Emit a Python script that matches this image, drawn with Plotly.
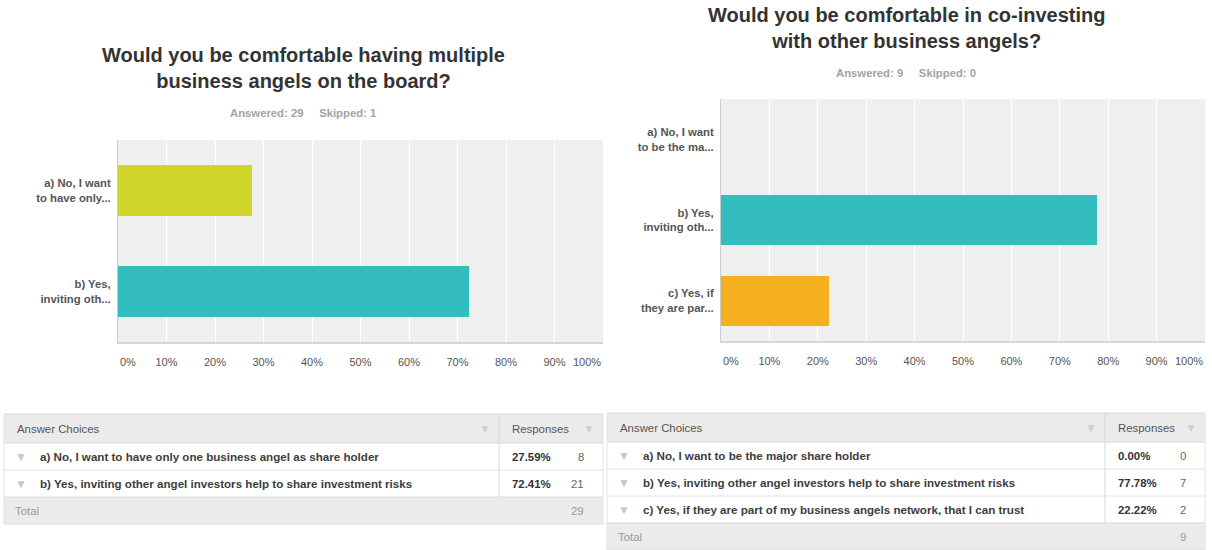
import plotly.graph_objects as go

W, H = 1212, 550

# ---- Question 1 -------------------------------------------------------------
q1_title = "Would you be comfortable having multiple<br>business angels on the board?"
q1_answered, q1_skipped = 29, 1
q1_labels = ["a) No, I want<br>to have only...", "b) Yes,<br>inviting oth..."]
q1_choices = [
    "a) No, I want to have only one business angel as share holder",
    "b) Yes, inviting other angel investors help to share investment risks",
]
q1_pct = [27.59, 72.41]
q1_counts = [8, 21]
q1_total = 29

# ---- Question 2 -------------------------------------------------------------
q2_title = "Would you be comfortable in co-investing<br>with other business angels?"
q2_answered, q2_skipped = 9, 0
q2_labels = ["a) No, I want<br>to be the ma...", "b) Yes,<br>inviting oth...", "c) Yes, if<br>they are par..."]
q2_choices = [
    "a) No, I want to be the major share holder",
    "b) Yes, inviting other angel investors help to share investment risks",
    "c) Yes, if they are part of my business angels network, that I can trust",
]
q2_pct = [0.00, 77.78, 22.22]
q2_counts = [0, 7, 2]
q2_total = 9

# ---- Axis ticks -------------------------------------------------------------
tick_vals = [0, 10, 20, 30, 40, 50, 60, 70, 80, 90, 100]
tick_text = ["0%", "10%", "20%", "30%", "40%", "50%", "60%", "70%", "80%", "90%", "100%"]

GREEN, TEAL, ORANGE = "#D0D62A", "#34BDBF", "#F6AF20"
q1_colors = [GREEN, TEAL]
q2_colors = [GREEN, TEAL, ORANGE]

FONT = "Liberation Sans, Arial, sans-serif"
TICK_COLOR = "#555555"


def fx(p):
    return p / W


def fy(p):
    return 1 - p / H


fig = go.Figure()

fig.add_trace(go.Bar(
    x=q1_pct, y=q1_labels, orientation="h", width=0.5,
    marker=dict(color=q1_colors, line=dict(width=0)),
    xaxis="x", yaxis="y", hoverinfo="skip", showlegend=False,
))
fig.add_trace(go.Bar(
    x=q2_pct, y=q2_labels, orientation="h", width=0.62,
    marker=dict(color=q2_colors, line=dict(width=0)),
    xaxis="x2", yaxis="y2", hoverinfo="skip", showlegend=False,
))

# plot panels: (left, right, top, bottom) in pixels
panels = [(118, 603, 140, 342), (721, 1205, 99, 341)]

xcommon = dict(
    range=[0, 100], tickvals=tick_vals,
    ticktext=[""] + tick_text[1:-1] + [""],
    showgrid=True, gridcolor="#ffffff", gridwidth=1, zeroline=False,
    showline=True, linecolor="#d6d6d6", linewidth=2, ticks="",
    tickfont=dict(family=FONT, size=11, color=TICK_COLOR),
    ticklabelstandoff=9, fixedrange=True,
)
ycommon = dict(
    type="category", autorange="reversed", showgrid=False, zeroline=False,
    showline=True, linecolor="#cccccc", linewidth=1, ticks="",
    tickfont=dict(family=FONT, size=11.3, color="#555555", weight="bold"),
    ticklabelstandoff=4, fixedrange=True,
)

fig.update_layout(
    width=W, height=H, margin=dict(l=0, r=0, t=0, b=0),
    paper_bgcolor="#ffffff", plot_bgcolor="#efefef",
    bargap=0,
    xaxis=dict(domain=[fx(panels[0][0]), fx(panels[0][1])], anchor="y", **xcommon),
    yaxis=dict(domain=[fy(panels[0][3]), fy(panels[0][2])], anchor="x",
               categoryarray=q1_labels, **ycommon),
    xaxis2=dict(domain=[fx(panels[1][0]), fx(panels[1][1])], anchor="y2", **xcommon),
    yaxis2=dict(domain=[fy(panels[1][3]), fy(panels[1][2])], anchor="x2",
                categoryarray=q2_labels, **ycommon),
)

annotations = []
shapes = []


def text(x, y, s, size=11, color="#444444", bold=False, anchor="left", xref="paper"):
    annotations.append(dict(
        x=x if xref != "paper" else fx(x), y=fy(y),
        xref=xref, yref="paper", text=s, showarrow=False,
        xanchor=anchor, yanchor="middle",
        font=dict(family=FONT, size=size, color=color, weight="bold" if bold else "normal"),
    ))


# end tick labels kept inside the panel edges
for xr, (l, r, t, b) in zip(["x", "x2"], panels):
    text(0, b + 20, tick_text[0], color=TICK_COLOR, anchor="left", xref=xr)
    text(100, b + 20, tick_text[-1], color=TICK_COLOR, anchor="right", xref=xr)

# titles and answered / skipped lines
NB = "\u00a0" * 5
for cx, ty, title, ans, skp in [
    (303, 68, q1_title, q1_answered, q1_skipped),
    (906, 28, q2_title, q2_answered, q2_skipped),
]:
    text(cx, ty, title, size=20, color="#333333", bold=True, anchor="center")
    text(cx, ty + 45, f"Answered: {ans}{NB}Skipped: {skp}", size=11.3, color="#a3a3a3",
         bold=True, anchor="center")


def rect(x0, y0, x1, y1, fill):
    shapes.append(dict(
        type="rect", xref="paper", yref="paper",
        x0=fx(x0), x1=fx(x1), y0=fy(y1), y1=fy(y0),
        fillcolor=fill, line=dict(width=0), layer="below",
    ))


def hline(x0, x1, y, color, lw=1):
    shapes.append(dict(type="line", xref="paper", yref="paper",
                       x0=fx(x0), x1=fx(x1), y0=fy(y), y1=fy(y),
                       line=dict(color=color, width=lw)))


def vline(x, y0, y1, color, lw=1):
    shapes.append(dict(type="line", xref="paper", yref="paper",
                       x0=fx(x), x1=fx(x), y0=fy(y0), y1=fy(y1),
                       line=dict(color=color, width=lw)))


ARROW = "\u25bc"
ARROW_SIZE = 12


def table(x0, x1, div, top, row_h, head_h, choices, pct, counts, total):
    head_b = top + head_h
    rows_b = head_b + row_h * len(choices)
    tot_b = rows_b + row_h
    rect(x0, top, x1, head_b, "#ebebeb")
    rect(x0, rows_b, x1, tot_b, "#ebebeb")
    hline(x0, x1, top, "#d9d9d9")
    hline(x0, x1, head_b, "#d6d6d6")
    for i in range(1, len(choices)):
        hline(x0, x1, head_b + row_h * i, "#e2e2e2")
    hline(x0, x1, rows_b, "#d9d9d9")
    hline(x0, x1, tot_b, "#dddddd")
    vline(div, top, rows_b, "#d9d9d9")
    vline(x0, top, tot_b, "#e4e4e4")
    vline(x1, top, tot_b, "#e4e4e4")

    hc = (top + head_b) / 2
    text(x0 + 11, hc, "Answer Choices", size=11.4, color="#555555")
    text(div - 14, hc, ARROW, size=ARROW_SIZE, color="#cfcfcf", anchor="center")
    text(div + 11, hc, "Responses", size=11.4, color="#555555")
    text(x1 - 14, hc, ARROW, size=ARROW_SIZE, color="#cfcfcf", anchor="center")
    for i, (c, p, n) in enumerate(zip(choices, pct, counts)):
        yc = head_b + row_h * i + row_h / 2
        text(x0 + 17, yc, ARROW, size=ARROW_SIZE, color="#c8c8c8", anchor="center")
        text(x0 + 34, yc, c, size=11.6, color="#3d3d3d", bold=True)
        text(div + 11, yc, f"{p:.2f}%", size=11.4, color="#333333", bold=True)
        text(x1 - 17, yc, str(n), size=11.4, color="#666666", anchor="right")
    tc = (rows_b + tot_b) / 2
    text(x0 + 9, tc, "Total", size=11.4, color="#999999")
    text(x1 - 17, tc, str(total), size=11.4, color="#999999", anchor="right")


table(4, 603, 499, 414, 27, 29, q1_choices, q1_pct, q1_counts, q1_total)
table(607, 1205, 1105, 413, 27, 29, q2_choices, q2_pct, q2_counts, q2_total)

fig.update_layout(annotations=annotations, shapes=shapes)

fig.write_html("out.html")
